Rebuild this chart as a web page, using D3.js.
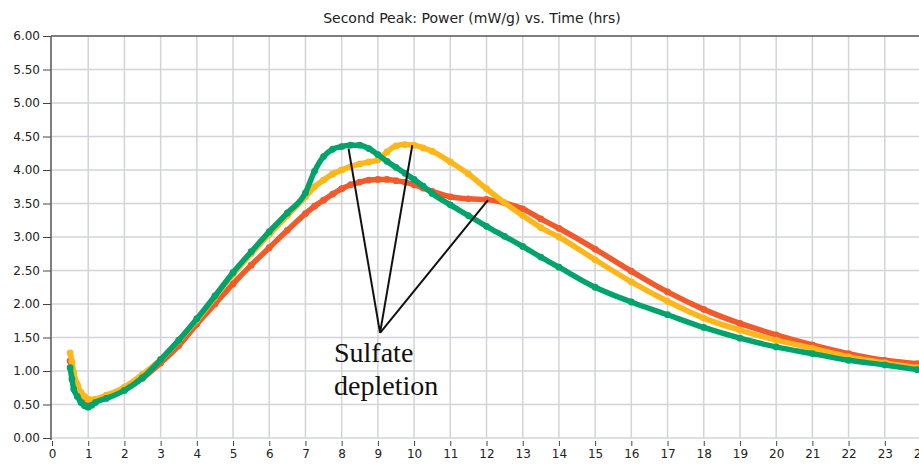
<!DOCTYPE html>
<html lang="en">

<head>
    <meta charset="UTF-8">
    <meta name="viewport" content="width=device-width, initial-scale=1.0">
    <script src="https://cdnjs.cloudflare.com/ajax/libs/d3/7.8.5/d3.min.js" type="text/JavaScript"></script>
    <title>Second Peak: Power vs. Time</title>
    <style>
        body { margin: 0; background: #fff; }
        svg { display: block; }
        .tick text { font-family: "DejaVu Sans", sans-serif; font-size: 12px; fill: #222; }
    </style>
</head>

<body>
    <svg width="919" height="466"></svg>
    <script>
        const hours = [0.5, 0.55, 0.6, 0.7, 0.8, 0.9, 1.0, 1.1, 1.2, 1.5, 2, 2.5, 3, 3.5, 4, 4.5, 5, 5.5, 6, 6.5,
            7, 7.25, 7.5, 7.75, 8, 8.25, 8.5, 8.75, 9, 9.25, 9.5, 9.75, 10, 10.25, 10.5, 11, 11.5, 12, 12.5, 13,
            13.5, 14, 15, 16, 17, 18, 19, 20, 21, 22, 23, 23.9]

        const redPower = [1.15, 1.05, 0.9, 0.74, 0.64, 0.56, 0.52, 0.51, 0.54, 0.61, 0.72, 0.89, 1.12, 1.38, 1.70, 2.0, 2.3, 2.58, 2.84, 3.1,
            3.35, 3.46, 3.55, 3.64, 3.72, 3.78, 3.82, 3.85, 3.86, 3.86, 3.84, 3.82, 3.78, 3.73, 3.68, 3.6, 3.57, 3.56, 3.51, 3.42,
            3.27, 3.13, 2.82, 2.49, 2.18, 1.92, 1.71, 1.54, 1.39, 1.26, 1.16, 1.11]

        const yellowPower = [1.27, 1.14, 0.98, 0.80, 0.68, 0.62, 0.58, 0.57, 0.58, 0.64, 0.76, 0.95, 1.17, 1.45, 1.76, 2.1, 2.44, 2.75, 3.04, 3.32,
            3.6, 3.75, 3.85, 3.94, 4.0, 4.05, 4.09, 4.12, 4.15, 4.27, 4.36, 4.38, 4.37, 4.33, 4.28, 4.12, 3.94, 3.72, 3.51, 3.32,
            3.14, 3.0, 2.66, 2.33, 2.04, 1.79, 1.61, 1.46, 1.34, 1.21, 1.12, 1.05]

        const greenPower = [1.05, 0.88, 0.73, 0.62, 0.53, 0.48, 0.46, 0.49, 0.53, 0.59, 0.71, 0.90, 1.17, 1.46, 1.78, 2.12, 2.47, 2.78, 3.08, 3.36,
            3.66, 3.98, 4.2, 4.31, 4.35, 4.37, 4.37, 4.32, 4.23, 4.13, 4.04, 3.95, 3.86, 3.76, 3.65, 3.48, 3.32, 3.16, 3.01, 2.86,
            2.7, 2.55, 2.25, 2.03, 1.84, 1.65, 1.49, 1.36, 1.26, 1.16, 1.09, 1.02]

        const seriesColors = ["#f15a2b", "#fdb71a", "#00a36c"]
        const xTicks = d3.range(0, 25)
        const yTicks = d3.range(0, 6.01, 0.5)

        // annotation: vertex, then the three points the lines reach
        const noteVertex = [9.06, 1.57]
        const noteTargets = [[8.19, 4.32], [9.95, 4.37], [12.04, 3.55]]
        const noteLines = ["Sulfate", "depletion"]

        const svg = d3.select("svg")
        const x = d3.scaleLinear().domain([0, 24]).range([52, 921])
        const y = d3.scaleLinear().domain([0, 6]).range([438, 36])

        svg.append("text")
            .attr("x", 472)
            .attr("y", 23)
            .attr("text-anchor", "middle")
            .style("font-family", "DejaVu Sans, sans-serif")
            .style("font-size", "14px")
            .style("fill", "#222")
            .text("Second Peak: Power (mW/g) vs. Time (hrs)")

        // grid
        svg.append("g")
            .selectAll("line")
            .data(xTicks.filter(d => d > 0))
            .enter()
            .append("line")
            .attr("x1", d => x(d))
            .attr("x2", d => x(d))
            .attr("y1", y(6))
            .attr("y2", y(0))
            .style("stroke", "#d3d4d9")
            .style("stroke-width", "1.5px")

        svg.append("g")
            .selectAll("line")
            .data(yTicks.filter(d => d < 6))
            .enter()
            .append("line")
            .attr("x1", x(0))
            .attr("x2", 919)
            .attr("y1", d => y(d))
            .attr("y2", d => y(d))
            .style("stroke", "#d3d4d9")
            .style("stroke-width", "1.5px")

        // axes
        svg.append("g")
            .attr("transform", `translate(${x(0) - 1},0)`)
            .call(d3.axisLeft(y).tickValues(yTicks).tickFormat(d3.format(".2f")).tickSize(8).tickPadding(3))
            .call(g => g.select(".domain").remove())
            .call(g => g.selectAll(".tick line").style("stroke", "#444"))

        svg.append("g")
            .attr("transform", "translate(0,441)")
            .call(d3.axisBottom(x).tickValues(xTicks).tickFormat(d3.format("d")).tickSize(5).tickPadding(3))
            .call(g => g.select(".domain").remove())
            .call(g => g.selectAll(".tick line").style("stroke", "#444"))

        svg.append("line")
            .attr("x1", x(0) - 1).attr("x2", x(0) - 1)
            .attr("y1", y(6)).attr("y2", y(0) + 2)
            .style("stroke", "#555").style("stroke-width", "1.5px")

        svg.append("line")
            .attr("x1", x(0) - 1).attr("x2", 919)
            .attr("y1", y(6)).attr("y2", y(6))
            .style("stroke", "#555").style("stroke-width", "1.5px")

        // series
        const line = d3.line()
            .x(d => x(d[0]))
            .y(d => y(d[1]))
            .curve(d3.curveMonotoneX)

        const series = [redPower, yellowPower, greenPower].map(v => hours.map((h, i) => [h, v[i]]))

        const plot = svg.append("g")

        series.forEach((pts, i) => {
            const g = plot.append("g")
            g.append("path")
                .attr("d", line(pts))
                .style("fill", "none")
                .style("stroke", seriesColors[i])
                .style("stroke-width", "5.5px")
                .style("stroke-linejoin", "round")
            g.selectAll("circle")
                .data(pts)
                .enter()
                .append("circle")
                .attr("cx", d => x(d[0]))
                .attr("cy", d => y(d[1]))
                .attr("r", 3.4)
                .style("fill", seriesColors[i])
        })

        // annotation
        svg.append("g")
            .selectAll("line")
            .data(noteTargets)
            .enter()
            .append("line")
            .attr("x1", x(noteVertex[0]))
            .attr("y1", y(noteVertex[1]))
            .attr("x2", d => x(d[0]))
            .attr("y2", d => y(d[1]))
            .style("stroke", "#111")
            .style("stroke-width", "2px")

        svg.append("g")
            .selectAll("text")
            .data(noteLines)
            .enter()
            .append("text")
            .attr("x", 334)
            .attr("y", (d, i) => 362 + i * 33)
            .style("font-family", "Liberation Serif, serif")
            .style("font-size", "28px")
            .style("fill", "#111")
            .text(d => d)
    </script>
</body>

</html>
